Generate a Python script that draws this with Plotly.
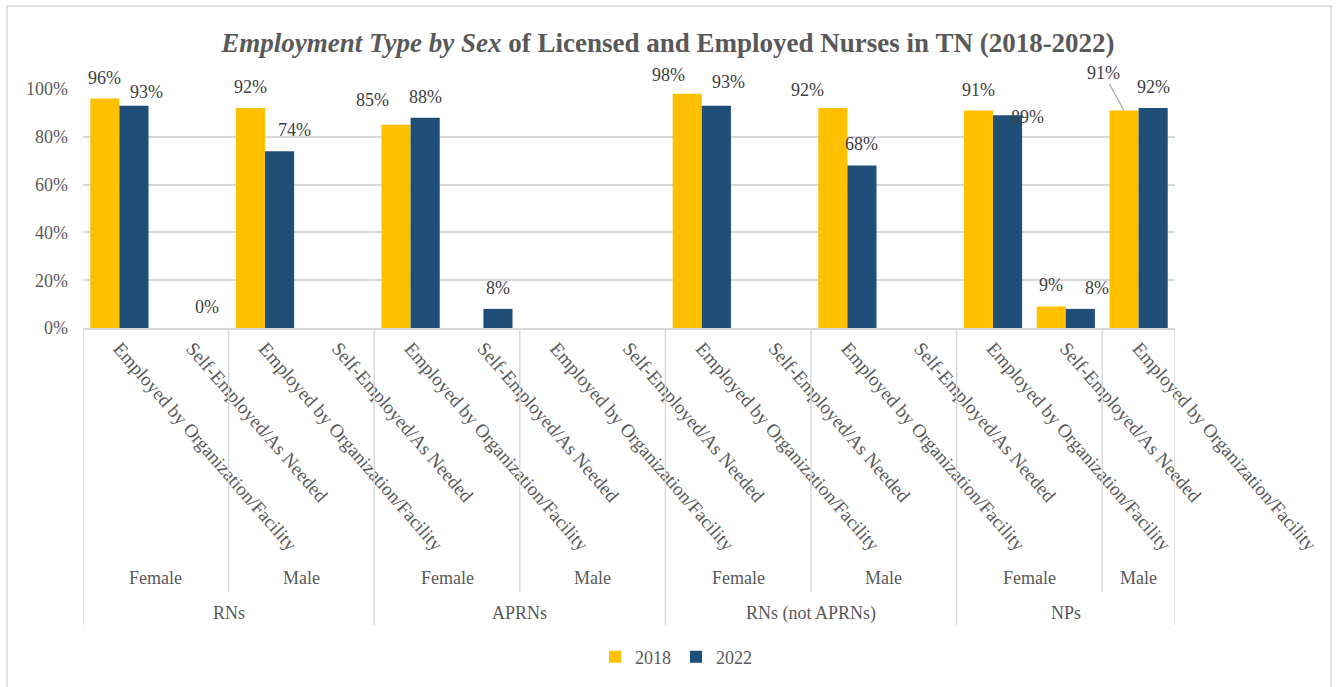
import plotly.graph_objects as go

# ---------------- data ----------------
groups = ["RNs", "APRNs", "RNs (not APRNs)", "NPs"]
sexes = ["Female", "Male"]
emp_types = ["Employed by Organization/Facility", "Self-Employed/As Needed"]

# leaf categories: (group, sex, type)
cat_group = ["RNs"] * 4 + ["APRNs"] * 4 + ["RNs (not APRNs)"] * 4 + ["NPs"] * 3
cat_sex = ["Female", "Female", "Male", "Male"] * 3 + ["Female", "Female", "Male"]
cat_type = [emp_types[0], emp_types[1]] * 7 + [emp_types[0]]

series_names = ["2018", "2022"]
values_2018 = [0.96, None, 0.92, None, 0.85, None, None, None,
               0.98, None, 0.92, None, 0.91, 0.09, 0.91]
values_2022 = [0.93, 0.00, 0.74, None, 0.88, 0.08, None, None,
               0.93, None, 0.68, None, 0.89, 0.08, 0.92]

y_tickvals = [0, 0.2, 0.4, 0.6, 0.8, 1.0]

# ---------------- style ----------------
colors = {"2018": "#FFC000", "2022": "#1F4E79"}
FONT = "Liberation Serif"
TXT = "#595959"
LBL = "#404040"
GRID = "#D9D9D9"
W, H = 1336, 687
ML, MR, MT, MB = 83, 161, 89, 359
PW, PH = W - ML - MR, H - MT - MB

# manual label nudges (px) copied from the reference's moved labels: (dx, dy up)
nudges = {
    (0, "2022"): (13, -7),
    (2, "2022"): (15, 0),
    (4, "2018"): (-24, 4),
    (8, "2018"): (-19, -2),
    (8, "2022"): (12, 3),
    (10, "2018"): (-25, -3),
    (12, "2022"): (20, -23),
    (13, "2022"): (17, 0),
}
leader = {(14, "2018"): (-21, -38)}

n = len(cat_type)
xs = list(range(n))

fig = go.Figure()
for name, vals in zip(series_names, [values_2018, values_2022]):
    fig.add_trace(go.Bar(
        x=xs, y=vals, name=name,
        marker=dict(color=colors[name], line=dict(width=0)),
        hoverinfo="skip",
    ))

annotations = []
# data labels
for si, (name, vals) in enumerate(zip(series_names, [values_2018, values_2022])):
    off = -0.2 if si == 0 else 0.2
    for i, v in enumerate(vals):
        if v is None:
            continue
        label = f"{round(v * 100):d}%"
        if (i, name) in leader:
            ax, ay = leader[(i, name)]
            annotations.append(dict(
                x=i + off, y=v, xref="x", yref="y", text=label,
                showarrow=True, arrowhead=0, arrowwidth=1.2, arrowcolor="#A6A6A6",
                ax=ax, ay=ay, standoff=0,
                font=dict(family=FONT, size=18, color=LBL)))
            continue
        dx, dy = nudges.get((i, name), (0, 0))
        annotations.append(dict(
            x=i + off, y=v, xref="x", yref="y", text=label, showarrow=False,
            xanchor="center", yanchor="middle", xshift=dx, yshift=21 + dy,
            font=dict(family=FONT, size=18, color=LBL)))

# hierarchical axis: sex and group labels
def spans(keys):
    out = []
    start = 0
    for i in range(1, len(keys) + 1):
        if i == len(keys) or keys[i] != keys[start]:
            out.append((start, i - 1, keys[start]))
            start = i
    return out

sex_keys = [(g, s) for g, s in zip(cat_group, cat_sex)]
sex_spans = spans(sex_keys)
grp_spans = spans(cat_group)

for a, b, (g, s) in sex_spans:
    annotations.append(dict(
        x=(a + b) / 2, y=0, xref="x", yref="paper", text=s, showarrow=False,
        yanchor="middle", yshift=-250, font=dict(family=FONT, size=18, color=TXT)))
for a, b, g in grp_spans:
    annotations.append(dict(
        x=(a + b) / 2, y=0, xref="x", yref="paper", text=g, showarrow=False,
        yanchor="middle", yshift=-285, font=dict(family=FONT, size=18, color=TXT)))

shapes = []
sex_bottom = -(592 - (MT + PH)) / PH
grp_bottom = -(625 - (MT + PH)) / PH
grp_bounds = set([a - 0.5 for a, b, g in grp_spans] + [grp_spans[-1][1] + 0.5])
sex_bounds = set(a - 0.5 for a, b, k in sex_spans) - grp_bounds
for xb in sorted(grp_bounds):
    shapes.append(dict(type="line", xref="x", yref="paper", x0=xb, x1=xb,
                       y0=0, y1=grp_bottom, line=dict(color=GRID, width=1.5)))
for xb in sorted(sex_bounds):
    shapes.append(dict(type="line", xref="x", yref="paper", x0=xb, x1=xb,
                       y0=0, y1=sex_bottom, line=dict(color=GRID, width=1.5)))
# outer chart border
shapes.append(dict(type="rect", xref="paper", yref="paper",
                   x0=(7 - ML) / PW, x1=(1331 - ML) / PW,
                   y0=(MT + PH - 700) / PH, y1=(MT + PH - 6) / PH,
                   line=dict(color=GRID, width=1.5), layer="below"))

fig.update_layout(
    width=W, height=H,
    margin=dict(l=ML, r=MR, t=MT, b=MB, pad=0),
    paper_bgcolor="white", plot_bgcolor="white",
    barmode="group", bargap=0.2, bargroupgap=0,
    title=dict(
        text="<b><i>Employment Type by Sex</i> of Licensed and Employed Nurses in TN (2018-2022)</b>",
        x=0.5, xanchor="center", y=1 - 43 / H, yanchor="middle",
        font=dict(family=FONT, size=27, color=TXT)),
    xaxis=dict(
        range=[-0.5, n - 0.5], tickmode="array", tickvals=xs, ticktext=cat_type,
        tickangle=49, tickfont=dict(family=FONT, size=19, color=TXT),
        showgrid=False, zeroline=False, showline=True, linecolor=GRID, linewidth=1.5,
        ticks="", automargin=False, fixedrange=True),
    yaxis=dict(
        range=[0, 1.0], tickmode="array", tickvals=y_tickvals, tickformat=".0%",
        tickfont=dict(family=FONT, size=18, color=TXT),
        showgrid=True, gridcolor=GRID, gridwidth=1.5, zeroline=False,
        showline=False, ticks="", ticklabelstandoff=14, automargin=False, fixedrange=True),
    legend=dict(
        orientation="h", x=(676 - ML) / PW, xanchor="center",
        y=-(657 - (MT + PH)) / PH, yanchor="middle",
        font=dict(family=FONT, size=18, color=TXT), itemwidth=30,
        traceorder="normal"),
    annotations=annotations,
    shapes=shapes,
    showlegend=True,
)

fig.write_html("out.html", config={"displayModeBar": False})
